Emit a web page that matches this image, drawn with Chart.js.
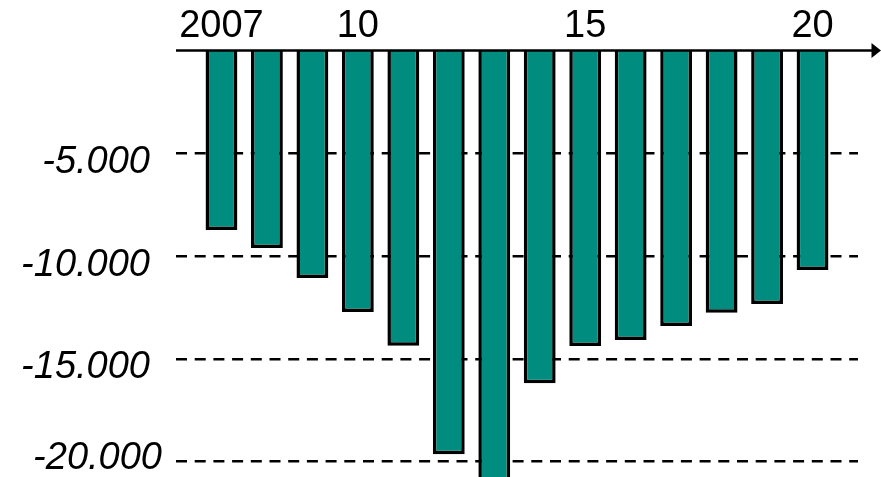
<!DOCTYPE html>
<html lang="de">
<head>
    <meta charset="UTF-8">
    <title>Saldo 2007-2020</title>
    <script src="https://cdn.jsdelivr.net/npm/chart.js"></script>
    <style>
        html, body { margin: 0; padding: 0; background: #fff; }
        #wrap { width: 881px; height: 477px; }
    </style>
</head>
<body>
    <div id="wrap"><canvas id="saldoChart"></canvas></div>

    <script>
        // Data
        const years = [2007, 2008, 2009, 2010, 2011, 2012, 2013, 2014, 2015, 2016, 2017, 2018, 2019, 2020];
        const values = [-8730, -9610, -11070, -12720, -14360, -19640, -21500, -16190, -14370, -14080, -13400, -12750, -12330, -10680];
        const xTickYears = [2007, 2010, 2015, 2020];
        const xTickLabels = ["2007", "10", "15", "20"];
        const yTickValues = [-5000, -10000, -15000, -20000];
        const yTickLabels = ["-5.000", "-10.000", "-15.000", "-20.000"];

        // Axis line with arrow at the top plus italic y labels
        const axisDecor = {
            id: "axisDecor",
            afterDraw(chart) {
                const ctx = chart.ctx;
                const area = chart.chartArea;
                const y0 = chart.scales.y.getPixelForValue(0);
                ctx.save();
                ctx.strokeStyle = "#000";
                ctx.lineWidth = 2.5;
                ctx.beginPath();
                ctx.moveTo(area.left, y0);
                ctx.lineTo(chart.width - 8, y0);
                ctx.stroke();
                ctx.fillStyle = "#000";
                ctx.beginPath();
                ctx.moveTo(chart.width - 9.5, y0 - 7.5);
                ctx.lineTo(chart.width, y0);
                ctx.lineTo(chart.width - 9.5, y0 + 7.5);
                ctx.closePath();
                ctx.fill();

                ctx.font = "italic 38px 'Liberation Sans', Arial, sans-serif";
                ctx.textAlign = "right";
                ctx.textBaseline = "middle";
                yTickValues.forEach((v, i) => {
                    let py = chart.scales.y.getPixelForValue(v) + 9;
                    let px = area.left - 26;
                    if (i === yTickValues.length - 1) { py -= 12; px += 12; }
                    ctx.fillText(yTickLabels[i], px, py);
                });
                ctx.restore();
            }
        };

        const ctx = document.getElementById("saldoChart").getContext("2d");
        new Chart(ctx, {
            type: "bar",
            data: {
                datasets: [{
                    data: years.map((y, i) => ({ x: y, y: values[i] })),
                    backgroundColor: "#008c7e",
                    borderColor: "#000",
                    borderWidth: 3.5,
                    borderSkipped: "start",
                    barPercentage: 0.7,
                    categoryPercentage: 1
                }]
            },
            options: {
                responsive: true,
                maintainAspectRatio: false,
                animation: false,
                layout: { padding: { left: 176, right: 23, top: 0, bottom: 0 } },
                plugins: {
                    legend: { display: false },
                    tooltip: { enabled: false }
                },
                scales: {
                    x: {
                        type: "linear",
                        position: "top",
                        offset: false,
                        min: 2006,
                        max: 2021,
                        grid: { display: false },
                        border: { display: false },
                        afterBuildTicks: s => { s.ticks = xTickYears.map(v => ({ value: v })); },
                        afterFit: s => { s.height = 50.5; },
                        ticks: {
                            autoSkip: false,
                            maxRotation: 0,
                            padding: -7,
                            color: "#000",
                            font: { family: "'Liberation Sans', Arial, sans-serif", size: 38 },
                            callback: v => xTickLabels[xTickYears.indexOf(v)]
                        }
                    },
                    y: {
                        min: -20745,
                        max: 0,
                        afterBuildTicks: s => { s.ticks = yTickValues.map(v => ({ value: v })); },
                        border: { display: false, dash: [11, 7.7] },
                        grid: {
                            color: "#000",
                            lineWidth: 2.5,
                            drawTicks: false
                        },
                        ticks: { display: false }
                    }
                }
            },
            plugins: [axisDecor]
        });
    </script>
</body>
</html>
